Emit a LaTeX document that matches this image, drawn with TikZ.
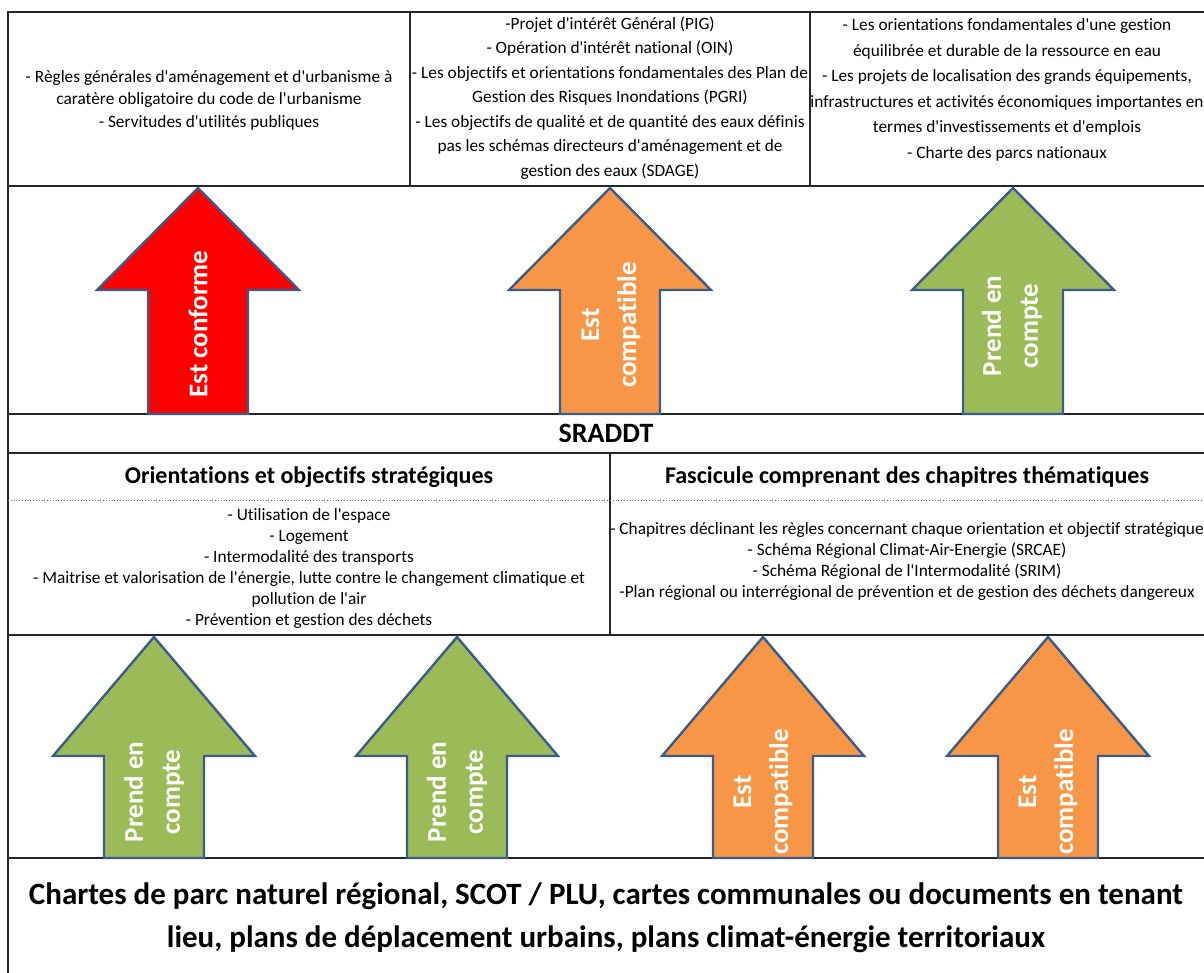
\documentclass[tikz,border=0pt]{standalone}
\usepackage{fontspec}
\setmainfont{Carlito}[Ligatures={TeXOff,NoCommon}]
\usepackage{tikz}
\definecolor{conformred}{HTML}{FF0000}
\definecolor{compatorange}{HTML}{F79646}
\definecolor{comptegreen}{HTML}{9BBB59}
\definecolor{arrowblue}{HTML}{3A5C8C}
\tikzstyle{frameline} = [draw=black!85, line width=2pt]
\tikzstyle{listtext} = [align=center, inner sep=0pt, font=\fontsize{17.3}{24.5}\selectfont]
\tikzstyle{headtext} = [inner sep=0pt, font=\fontsize{24}{28}\selectfont\bfseries]
\tikzstyle{bigarrow} = [draw=arrowblue, line width=2.4pt, line join=miter]
\tikzstyle{arrowtext} = [rotate=90, align=center, inner sep=0pt, text=white, font=\fontsize{27}{37}\selectfont\bfseries]
\newcommand{\uparrowshape}[5]{%
  \filldraw[bigarrow, fill=#1] (#2,#3) -- (#2+101,#4) -- (#2+50,#4) -- (#2+50,#5)
    -- (#2-50,#5) -- (#2-50,#4) -- (#2-101,#4) -- cycle;}

\begin{document}
\begin{tikzpicture}[x=1pt, y=-1pt]
        \useasboundingbox (0,0) rectangle (1204,972);

        \foreach \y in {12,186,414,453,635,858}
            \draw[frameline] (8,\y) -- (1210,\y);
        \draw[frameline] (8,11) -- (8,980);
        \draw[frameline] (410,12) -- (410,186);
        \draw[frameline] (810,12) -- (810,186);
        \draw[frameline] (610,453) -- (610,635);
        \draw[dotted, black!60, line width=0.8pt] (8,500) -- (1210,500);

        \node [listtext, font=\fontsize{17.3}{22.5}\selectfont] (regles) at (209,100) {%
            - Règles générales d'aménagement et d'urbanisme à\\
            caratère obligatoire du code de l'urbanisme\\
            - Servitudes d'utilités publiques};
        \node [listtext] (projets) at (610,98) {%
            -Projet d'intérêt Général (PIG)\\
            - Opération d'intérêt national (OIN)\\
            - Les objectifs et orientations fondamentales des Plan de\\
            Gestion des Risques Inondations (PGRI)\\
            - Les objectifs de qualité et de quantité des eaux définis\\
            pas les schémas directeurs d'aménagement et de\\
            gestion des eaux (SDAGE)};
        \node [listtext, font=\fontsize{17.3}{25.5}\selectfont] (gestion) at (1007,90) {%
            - Les orientations fondamentales d'une gestion\\
            équilibrée et durable de la ressource en eau\\
            - Les projets de localisation des grands équipements,\\
            infrastructures et activités économiques importantes en\\
            termes d'investissements et d'emplois\\
            - Charte des parcs nationaux};

        \uparrowshape{conformred}{198}{188}{290}{414}
        \uparrowshape{compatorange}{610}{188}{290}{414}
        \uparrowshape{comptegreen}{1013}{188}{290}{414}
        \node [arrowtext] (conforme) at (198,324) {Est conforme};
        \node [arrowtext] (compatA) at (611,325) {Est\\compatible};
        \node [arrowtext] (compteA) at (1012,326) {Prend en\\compte};

        \node [inner sep=0pt, font=\fontsize{28}{32}\selectfont\bfseries] (sraddt) at (606,433) {SRADDT};
        \node [headtext] (orient) at (309,477) {Orientations et objectifs stratégiques};
        \node [headtext] (fascicule) at (907,477) {Fascicule comprenant des chapitres thématiques};

        \node [listtext, font=\fontsize{17.3}{21}\selectfont] (themes) at (309,568) {%
            - Utilisation de l'espace\\
            - Logement\\
            - Intermodalité des transports\\
            - Maitrise et valorisation de l'énergie, lutte contre le changement climatique et\\
            pollution de l'air\\
            - Prévention et gestion des déchets};
        \node [listtext, font=\fontsize{17.3}{21}\selectfont] (chapitres) at (907,561) {%
            - Chapitres déclinant les règles concernant chaque orientation et objectif stratégique\\
            - Schéma Régional Climat-Air-Energie (SRCAE)\\
            - Schéma Régional de l'Intermodalité (SRIM)\\
            -Plan régional ou interrégional de prévention et de gestion des déchets dangereux};

        \uparrowshape{comptegreen}{154}{637}{756}{858}
        \uparrowshape{comptegreen}{457}{637}{756}{858}
        \uparrowshape{compatorange}{763}{637}{756}{858}
        \uparrowshape{compatorange}{1048}{637}{756}{858}
        \node [arrowtext] (compteB) at (154,792) {Prend en\\compte};
        \node [arrowtext] (compteC) at (457,792) {Prend en\\compte};
        \node [arrowtext] (compatB) at (763,792) {Est\\compatible};
        \node [arrowtext] (compatC) at (1048,792) {Est\\compatible};

        \node [align=center, inner sep=0pt, font=\fontsize{31}{43}\selectfont\bfseries] (chartes) at (606,918) {%
            Chartes de parc naturel régional, SCOT / PLU, cartes communales ou documents en tenant\\
            lieu, plans de déplacement urbains, plans climat-énergie territoriaux};
    \end{tikzpicture}
\end{document}
